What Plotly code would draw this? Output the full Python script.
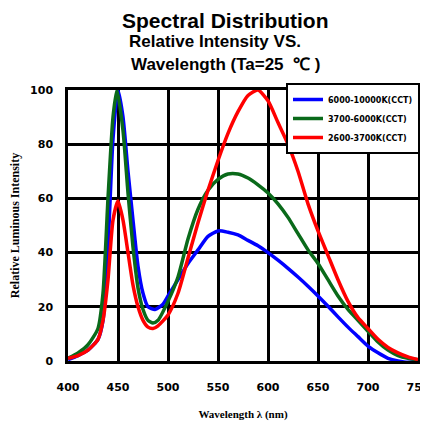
import plotly.graph_objects as go

# Wavelength samples (nm)
wl_blue = [400, 410, 420, 430, 435, 440, 445, 450, 455, 460, 465, 470, 475, 480, 487, 495, 500, 510, 520, 530,
           540, 550, 560, 570, 580, 590, 600, 610, 620, 630, 640, 650, 660, 670, 680, 690, 700, 710, 720, 730, 740, 750]
val_blue = [0.5, 2, 4, 8, 15, 42, 82, 100, 90, 70, 52, 35, 25, 20, 19, 21, 24, 30, 36, 41,
            46, 48, 47.5, 46.5, 44.5, 42.5, 40, 37.2, 34.2, 31, 27.6, 24, 20.2, 16.3, 12.5, 9, 5.5, 3, 1, 0, -0.5, 0]

wl_green = [400, 410, 420, 430, 435, 440, 445, 449, 455, 460, 465, 470, 475, 480, 485, 490, 500, 510, 520, 530,
            540, 550, 560, 570, 580, 590, 600, 610, 620, 630, 640, 650, 660, 670, 680, 690, 700, 710, 720, 730, 740, 750]
val_green = [1, 3, 6, 12, 25, 60, 90, 100, 85, 62, 42, 27, 19, 15, 14, 15, 22, 31, 45, 56,
             63, 67, 69, 69, 67.5, 65, 62, 58, 53, 47, 41, 36, 30, 24, 19, 15, 11, 7, 4, 2, 1, 0.5]

wl_red = [400, 410, 420, 430, 435, 440, 445, 450, 455, 460, 465, 470, 475, 480, 485, 490, 500, 510, 520, 530,
          540, 550, 560, 570, 580, 590, 600, 610, 620, 630, 640, 650, 660, 670, 680, 690, 700, 710, 720, 730, 740, 750]
val_red = [1, 2, 4, 8, 15, 30, 52, 59, 52, 40, 28, 20, 15, 12.5, 12, 13, 17, 25, 38, 51,
           63, 74, 84, 92, 98, 100, 96, 88, 80, 70, 58, 48, 39, 30, 22, 16, 12, 8, 5, 3, 1.5, 0.5]

names = ["6000-10000K(CCT)", "3700-6000K(CCT)", "2600-3700K(CCT)"]
colors = ["#0000ff", "#0a6a1a", "#ff0000"]

x_ticks = [400, 450, 500, 550, 600, 650, 700, 750]
y_ticks = [0, 20, 40, 60, 80, 100]

# the page body has an 8px margin, so the figure is drawn 8px smaller
W, H = 420, 417
L, R, T, B = 60, 10, 82, 64
pw, ph = W - L - R, H - T - B

fig = go.Figure()
for wl, val, nm, col in [(wl_blue, val_blue, names[0], colors[0]),
                         (wl_green, val_green, names[1], colors[1]),
                         (wl_red, val_red, names[2], colors[2])]:
    fig.add_trace(go.Scatter(x=wl, y=val, name=nm, mode="lines",
                             line=dict(color=col, width=3.5, shape="spline", smoothing=0.6)))


def px(x):
    return (x - 8 - L) / pw


def py(y):
    return 1 + (T - (y - 8)) / ph


fig.update_layout(
    width=W, height=H,
    margin=dict(l=L, r=R, t=T, b=B, autoexpand=False),
    paper_bgcolor="white", plot_bgcolor="white",
    font=dict(family="Liberation Serif", color="black"),
    showlegend=True,
    legend=dict(x=px(420), xanchor="right", y=py(83), yanchor="top",
                bgcolor="white", bordercolor="black", borderwidth=2,
                font=dict(family="DejaVu Sans", size=8, color="black", weight="bold"),
                itemwidth=30, tracegroupgap=0),
    annotations=[
        dict(text="<b>Spectral Distribution</b>", x=px(225), y=py(8), xref="paper", yref="paper",
             showarrow=False, yanchor="top", borderpad=0,
             font=dict(family="Liberation Sans", size=21, color="black")),
        dict(text="<b>Relative Intensity VS.</b>", x=px(127), y=py(42), xref="paper", yref="paper",
             showarrow=False, xanchor="left", yanchor="middle",
             font=dict(family="Liberation Sans", size=17, color="black")),
        dict(text="<b>Wavelength (Ta=25\u00a0\u00a0\u2103\u00a0)</b>", x=px(129), y=py(65), xref="paper", yref="paper",
             showarrow=False, xanchor="left", yanchor="middle",
             font=dict(family="Liberation Sans", size=17, color="black")),
    ],
)

fig.update_xaxes(range=[400, 750], tickvals=x_ticks, ticktext=[f"<b>{t}</b>" for t in x_ticks],
                 showgrid=True, gridcolor="black", gridwidth=2.5,
                 showline=True, linecolor="black", linewidth=2.5, mirror=True,
                 zeroline=False, ticks="", ticklabelstandoff=14, ticklabeloverflow="allow",
                 tickfont=dict(size=11, family="DejaVu Sans"),
                 title=dict(text="<b>Wavelength \u03bb (nm)</b>", font=dict(size=11, family="Liberation Serif"),
                            standoff=18))
fig.update_yaxes(range=[0, 100], tickvals=y_ticks, ticktext=[f"<b>{t}</b>" for t in y_ticks],
                 showgrid=True, gridcolor="black", gridwidth=2.5,
                 showline=True, linecolor="black", linewidth=2.5, mirror=True,
                 zeroline=False, ticks="", ticklabelstandoff=10,
                 tickfont=dict(size=11, family="DejaVu Sans"),
                 title=dict(text="<b>Relative Luminous Intensity</b>", font=dict(size=12, family="Liberation Serif"),
                            standoff=8))

fig.write_html("out.html")
